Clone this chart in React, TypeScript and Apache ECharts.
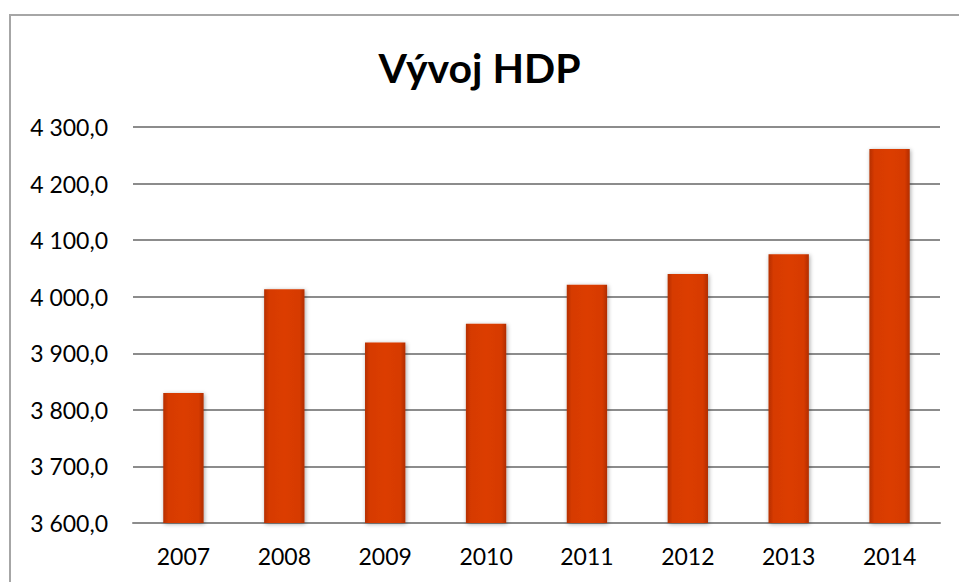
import React, { useEffect, useRef } from "react";
import * as echarts from "echarts";

const title = "Vývoj HDP";
const years = ["2007", "2008", "2009", "2010", "2011", "2012", "2013", "2014"];
const gdp = [3830, 4013, 3919, 3952, 4021, 4040, 4075, 4261];
const yMin = 3600;
const yMax = 4300;
const yStep = 100;

const fmt = (v: number) => {
  const [i, d] = v.toFixed(1).split(".");
  const withSpace = i.replace(/\B(?=(\d{3})+(?!\d))/g, " ");
  return withSpace + "," + d;
};

export default function App() {
  const ref = useRef<HTMLDivElement>(null);
  useEffect(() => {
    if (!ref.current) return;
    const chart = echarts.init(ref.current, undefined, { renderer: "svg" });
    chart.setOption({
      animation: false,
      backgroundColor: "#ffffff",
      graphic: [
        {
          type: "rect",
          shape: { x: 10, y: 15, width: 1000, height: 1000 },
          style: { fill: "none", stroke: "#a6a6a6", lineWidth: 2 },
          silent: true,
          z: 0,
        },
      ],
      title: {
        text: title,
        left: "center",
        top: 42,
        textStyle: {
          fontFamily: "Lato",
          fontWeight: "bold",
          fontSize: 41,
          color: "#000000",
        },
      },
      grid: { left: 133, right: 19, top: 127, bottom: 59, containLabel: false },
      xAxis: {
        type: "category",
        data: years,
        axisLine: { show: true, lineStyle: { color: "#8c8c8c", width: 2 } },
        axisTick: { show: false },
        axisLabel: {
          fontFamily: "Lato",
          fontSize: 23,
          color: "#000000",
          margin: 21,
        },
      },
      yAxis: {
        type: "value",
        min: yMin,
        max: yMax,
        interval: yStep,
        axisLine: { show: false },
        axisTick: { show: false },
        splitLine: { lineStyle: { color: "#8c8c8c", width: 2 } },
        axisLabel: {
          fontFamily: "Lato",
          fontSize: 23,
          color: "#000000",
          margin: 25,
          formatter: (v: number) => fmt(v),
        },
      },
      series: [
        {
          type: "bar",
          data: gdp,
          barWidth: "40%",
          itemStyle: {
            color: new echarts.graphic.LinearGradient(0, 0, 1, 0, [
              { offset: 0, color: "#b52f00" },
              { offset: 0.12, color: "#d63a04" },
              { offset: 0.5, color: "#dc3d06" },
              { offset: 0.88, color: "#d63a04" },
              { offset: 1, color: "#b02d00" },
            ]),
            shadowColor: "rgba(0,0,0,0.35)",
            shadowBlur: 4,
            shadowOffsetX: 1,
            shadowOffsetY: 1,
          },
        },
      ],
    });
    return () => chart.dispose();
  }, []);
  return (
    <div
      ref={ref}
      style={{ position: "absolute", left: 0, top: 0, width: 959, height: 582 }}
    />
  );
}
